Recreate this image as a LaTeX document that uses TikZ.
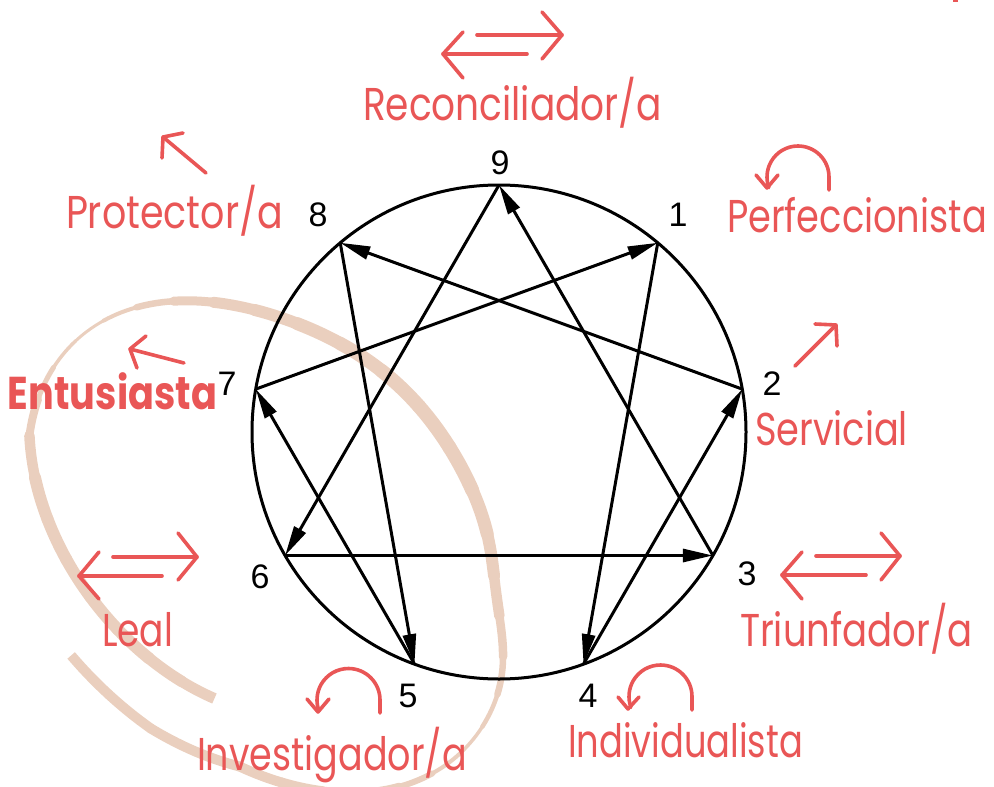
\documentclass[tikz,border=0pt]{standalone}
\usepackage{fontspec}
\usepackage{graphicx}
\setmainfont{Poppins}
\newfontfamily\numfont{Liberation Sans}
\usetikzlibrary{arrows.meta,calc}
\definecolor{redc}{RGB}{233,86,86}
\definecolor{beigec}{RGB}{234,207,190}
\newcommand{\redlbl}[2]{\resizebox{#1pt}{\height}{\fontsize{46}{50}\selectfont #2}}
\begin{document}
\begin{tikzpicture}[x=1pt,y=-1pt,
  declare function={
    sbase(\t)=ifthenelse(\t>80, 1.08+0.05*(\t-80)/23,
              ifthenelse(\t>60, 1+0.08*(\t-60)/20,
              ifthenelse(\t>-210, 1, 1-0.23*(-210-\t)/80)));
    sfac(\t)=sbase(\t)+0.05*exp(-min(((\t+95)/25)^2,15))-0.04*exp(-min(((\t+45)/15)^2,15));
    ex(\t)=268+sfac(\t)*(282*cos(\t)*0.682-197*sin(\t)*0.731);
    ey(\t)=547+sfac(\t)*(282*cos(\t)*0.731+197*sin(\t)*0.682);
  },
  lbl/.style={text=redc, inner sep=0pt, outer sep=0pt, anchor=base west},
  num/.style={font=\numfont\fontsize{34}{34}\selectfont, inner sep=0pt, text=black},
  rarrow/.style={draw=redc, line width=3.6pt, line cap=round, line join=round},
  eline/.style={draw=black, line width=3pt, -{Triangle[length=30pt,width=13pt]}},
]
\useasboundingbox (0,0) rectangle (994,787);

% ---- beige brush stroke (spiral around the 5-6-7 side) ----
\foreach \ta/\w/\c in {100/10/butt,90/10/round,80/10/round,70/10/round,60/10/round,
  50/10/round,40/9.5/round,30/8/round,20/6/round,10/4/round,0/3.5/round,
  -10/4.5/round,-20/6.5/round,-30/8.5/round,-40/10.5/round,-50/12/round,
  -60/13/round,-70/14/round,-80/14/round,-90/14/round,-100/13.5/round,
  -110/13/round,-120/12/round,-130/11/round,-140/9/round,-150/6.5/round,
  -160/4/round,-170/3/round,-180/3.5/round,-190/5/round,-200/8/round,
  -210/10.5/round,-220/12/round,-230/12/round,-240/12/round,-250/12/round,
  -260/12/round,-270/11.5/round,-280/11/butt}{
  \pgfmathsetmacro\tb{\ta-10}
  \draw[beigec, line width=\w pt, line cap=\c]
    plot[domain=\ta:\tb, samples=8, variable=\t] ({ex(\t)},{ey(\t)});
}

% ---- enneagram ----
\coordinate (C) at (499,432);
\draw[line width=3pt] (C) circle[radius=247];
\foreach \k/\a in {9/90,1/50,2/10,3/-30,4/-70,5/-110,6/-150,7/170,8/130}
  {\coordinate (p\k) at ({499+247*cos(\a)},{432-247*sin(\a)});}
\draw[eline] (p9) -- (p6);
\draw[eline] (p6) -- (p3);
\draw[eline] (p3) -- (p9);
\draw[eline] (p1) -- (p4);
\draw[eline] (p4) -- (p2);
\draw[eline] (p2) -- (p8);
\draw[eline] (p8) -- (p5);
\draw[eline] (p5) -- (p7);
\draw[eline] (p7) -- (p1);

\node[num] (n9) at (500,163) {9};
\node[num] (n1) at (678,215) {1};
\node[num] (n2) at (772,384) {2};
\node[num] (n3) at (747,574) {3};
\node[num] (n4) at (588,696) {4};
\node[num] (n5) at (408,696) {5};
\node[num] (n6) at (260,577) {6};
\node[num] (n7) at (227,384) {7};
\node[num] (n8) at (318,215) {8};

% ---- red labels ----
\node[lbl] (rec) at (363,120) {\redlbl{299}{Reconciliador/a}};
\node[lbl] (pro) at (66,228) {\redlbl{217}{Protector/a}};
\node[lbl] (per) at (727,232) {\redlbl{260}{Perfeccionista}};
\node[lbl] (ent) at (8,409) {\redlbl{209}{\bfseries Entusiasta}};
\node[lbl] (ser) at (755,445) {\redlbl{153}{Servicial}};
\node[lbl] (lea) at (102,646) {\redlbl{71}{Leal}};
\node[lbl] (tri) at (740,646) {\redlbl{233}{Triunfador/a}};
\node[lbl] (inv) at (197,770) {\redlbl{270}{Investigador/a}};
\node[lbl] (ind) at (568,757) {\redlbl{235}{Individualista}};

% ---- red arrows ----
% top double arrow
\draw[rarrow] (477,35) -- (562,35);
\draw[rarrow] (542,12) -- (562,35) -- (542,59);
\draw[rarrow] (527,54) -- (443,54);
\draw[rarrow] (463,32) -- (443,54) -- (463,78);
% Leal double arrow
\draw[rarrow] (113,557) -- (197,557);
\draw[rarrow] (178,533) -- (197,557) -- (178,580);
\draw[rarrow] (162,576) -- (79,576);
\draw[rarrow] (99,552) -- (79,576) -- (99,599);
% Triunfador double arrow
\draw[rarrow] (816,556) -- (900,556);
\draw[rarrow] (881,533) -- (900,556) -- (881,580);
\draw[rarrow] (866,575) -- (782,575);
\draw[rarrow] (802,552) -- (782,575) -- (802,599);
% single arrows
\draw[rarrow] (206,173) -- (163,137);
\draw[rarrow] (183,133) -- (163,137) -- (162,158);
\draw[rarrow] (184,363) -- (130,349);
\draw[rarrow] (146,336) -- (130,349) -- (137,368);
\draw[rarrow] (795,366) -- (836,325);
\draw[rarrow] (815,324) -- (836,325) -- (837,346);
% curl arrows
\draw[rarrow] (829,190) -- (829,177) arc[start angle=0, end angle=-200, radius=31];
\draw[rarrow] (756,175) -- (767,188) -- (778,175);
\draw[rarrow] (380,713) -- (380,700) arc[start angle=0, end angle=-200, radius=31.5];
\draw[rarrow] (307,699) -- (318,712) -- (329,699);
\draw[rarrow] (692,710) -- (692,696.5) arc[start angle=0, end angle=-200, radius=31.5];
\draw[rarrow] (618,697) -- (628,709) -- (639,697);
% small fragment at top right
\fill[redc] (953,0) rectangle (958,2);
\end{tikzpicture}
\end{document}
